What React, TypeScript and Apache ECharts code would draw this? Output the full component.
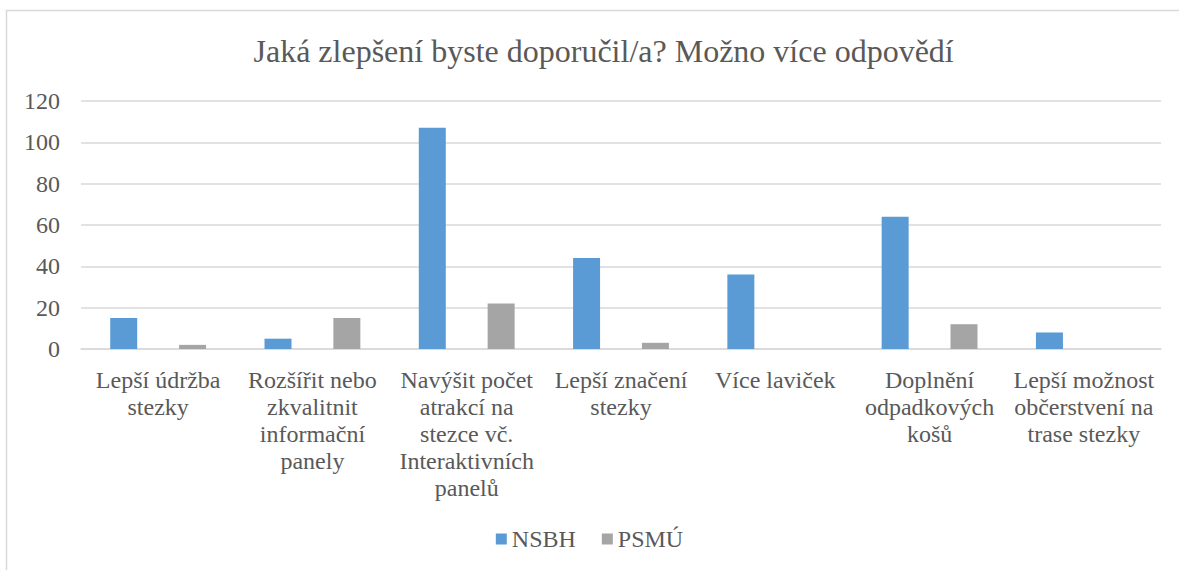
import React, { useEffect, useRef } from "react";
import * as echarts from "echarts";

const titleText = "Jaká zlepšení byste doporučil/a? Možno více odpovědí";
const categories = [
  "Lepší údržba\nstezky",
  "Rozšířit nebo\nzkvalitnit\ninformační\npanely",
  "Navýšit počet\natrakcí na\nstezce vč.\nInteraktivních\npanelů",
  "Lepší značení\nstezky",
  "Více laviček",
  "Doplnění\nodpadkových\nkošů",
  "Lepší možnost\nobčerstvení na\ntrase stezky",
];
const seriesNames = ["NSBH", "PSMÚ"];
const nsbh = [15, 5, 107, 44, 36, 64, 8];
const psmu = [2, 15, 22, 3, 0, 12, 0];
const yTicks = [0, 20, 40, 60, 80, 100, 120];

const FONT = "'Liberation Serif', 'Times New Roman', serif";
const TEXT = "#595959";

export default function App() {
  const ref = useRef<HTMLDivElement>(null);
  useEffect(() => {
    if (!ref.current) return;
    const chart = echarts.init(ref.current, null, { renderer: "svg" });
    chart.setOption({
      animation: false,
      backgroundColor: "#ffffff",
      textStyle: { fontFamily: FONT },
      title: {
        text: titleText,
        left: 598.6,
        textAlign: "center",
        top: 30,
        textStyle: { fontFamily: FONT, fontSize: 32, fontWeight: "normal", color: TEXT },
      },
      graphic: [
        {
          type: "rect",
          shape: { x: 6.5, y: 10.5, width: 1400, height: 800 },
          style: { fill: "none", stroke: "#d9d9d9", lineWidth: 1.5 },
          silent: true,
        },
      ],
      legend: {
        data: seriesNames,
        bottom: 14,
        left: "center",
        itemWidth: 11,
        itemHeight: 11,
        itemGap: 26,
        icon: "rect",
        textStyle: { fontFamily: FONT, fontSize: 24, color: TEXT },
      },
      grid: { left: 81, right: 18, top: 101, bottom: 221, containLabel: false },
      xAxis: {
        type: "category",
        data: categories,
        axisTick: { show: false },
        axisLine: { show: true, lineStyle: { color: "#d9d9d9", width: 1.5 } },
        axisLabel: {
          interval: 0,
          margin: 17,
          fontFamily: FONT,
          fontSize: 24,
          lineHeight: 27,
          color: TEXT,
          align: "center",
        },
      },
      yAxis: {
        type: "value",
        min: yTicks[0],
        max: yTicks[yTicks.length - 1],
        interval: 20,
        axisLine: { show: false },
        axisTick: { show: false },
        splitLine: { lineStyle: { color: "#d9d9d9", width: 1.5 } },
        axisLabel: { margin: 21, fontFamily: FONT, fontSize: 24, color: TEXT },
      },
      series: [
        {
          name: seriesNames[0],
          type: "bar",
          data: nsbh,
          barWidth: 27,
          barGap: "155%",
          itemStyle: { color: "#5B9BD5" },
        },
        {
          name: seriesNames[1],
          type: "bar",
          data: psmu,
          barWidth: 27,
          barGap: "155%",
          itemStyle: { color: "#A5A5A5" },
        },
      ],
    });
    return () => chart.dispose();
  }, []);
  return (
    <div
      ref={ref}
      style={{ position: "fixed", left: 0, top: 0, width: 1179, height: 570 }}
    />
  );
}
